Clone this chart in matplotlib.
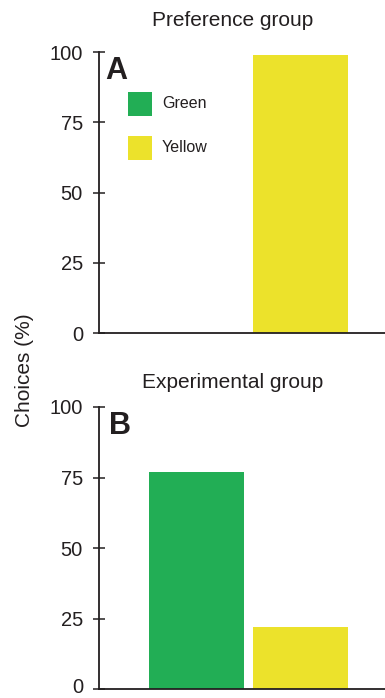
import matplotlib
matplotlib.use("Agg")
import matplotlib.pyplot as plt
from matplotlib.patches import Rectangle
from matplotlib.transforms import ScaledTranslation

plt.rcParams['font.family'] = ['Liberation Sans', 'DejaVu Sans']

categories = ["Green", "Yellow"]
preference_values = [0, 99]
experimental_values = [77, 22]
colors = ["#22ae55", "#ece22b"]
yticks = [0, 25, 50, 75, 100]
titles = ["Preference group", "Experimental group"]
panel_letters = ["A", "B"]

W, H = 385, 698
fig = plt.figure(figsize=(W / 100, H / 100), dpi=100)

def rect(l, t, r, b):
    return [l / W, 1 - b / H, (r - l) / W, (b - t) / H]

axA = fig.add_axes(rect(99, 52, 385, 333))
axB = fig.add_axes(rect(99, 407, 385, 689))

txt_col = "#231f20"
spine_col = "#231f20"
letter_x = [0.022, 0.036]
title_y = [20, 383]
for ax, vals, title, letter, lx, ty in zip([axA, axB], [preference_values, experimental_values],
                                           titles, panel_letters, letter_x, title_y):
    x = list(range(len(categories)))
    ax.bar(x, vals, width=0.91, color=colors, zorder=1)
    ax.set_xlim(-0.93, 1.81)
    ax.set_ylim(0, 100)
    ax.set_yticks(yticks)
    ax.set_xticks([])
    for s in ["top", "right"]:
        ax.spines[s].set_visible(False)
    ax.spines["left"].set_color(spine_col)
    ax.spines["left"].set_linewidth(1.3)
    ax.spines["bottom"].set_color(spine_col)
    ax.spines["bottom"].set_linewidth(1.3)
    ax.spines["bottom"].set_zorder(3)
    ax.tick_params(axis="y", direction="inout", length=8.6, width=1.1, color=spine_col,
                   labelsize=14.5, labelcolor=txt_col, pad=7.3)
    fig.text(233 / W, 1 - ty / H, title, fontsize=15, color=txt_col, ha="center", va="center")
    ax.text(lx, 0.985, letter, transform=ax.transAxes, fontsize=22, fontweight="bold",
            color=txt_col, va="top", ha="left")
    ax.patch.set_alpha(0)

# keep the lowest tick label of panel B inside the figure
fig.canvas.draw()
lbl0 = axB.get_yticklabels()[0]
lbl0.set_transform(lbl0.get_transform() + ScaledTranslation(0, 3.5 / 100, fig.dpi_scale_trans))

# manual legend (squares + labels) in panel A
leg_tops = [92, 136]
for cat, col, top in zip(categories, colors, leg_tops):
    fig.patches.append(Rectangle((128 / W, 1 - (top + 24) / H), 24 / W, 24 / H,
                                 transform=fig.transFigure, facecolor=col, edgecolor="none"))
    fig.text(162 / W, 1 - (top + 12) / H, cat, fontsize=11.5, color=txt_col,
             ha="left", va="center")

fig.text(24 / W, 1 - 370 / H, "Choices (%)", rotation=90, ha="center", va="center",
         fontsize=15, color=txt_col)

fig.savefig("out.png", dpi=100)
